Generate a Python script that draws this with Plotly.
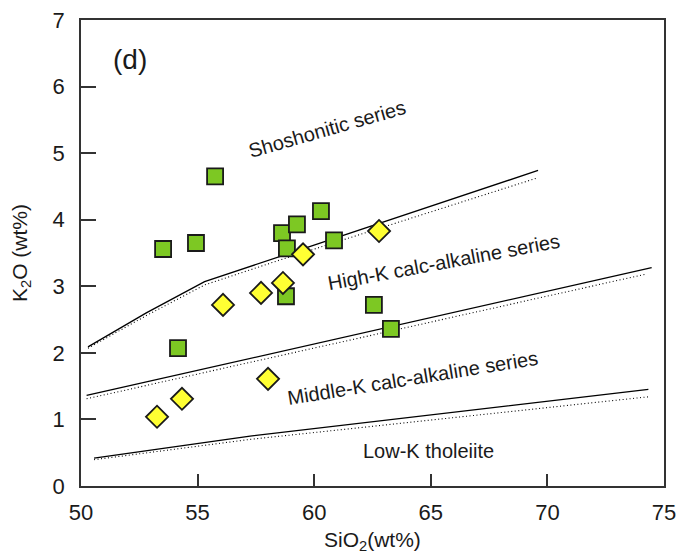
import plotly.graph_objects as go

# Boundary lines (solid and dotted versions)
shos_x = [50.3, 52.8, 55.3, 58.4, 69.6]
shos_y = [2.09, 2.60, 3.07, 3.43, 4.74]
shos_dot_x = [50.3, 52.8, 55.3, 58.4, 69.5]
shos_dot_y = [2.07, 2.56, 3.02, 3.38, 4.62]

highk_x = [50.24, 74.47]
highk_y = [1.36, 3.28]
highk_dot_x = [50.24, 74.19]
highk_dot_y = [1.31, 3.18]

lowk_x = [50.56, 57.25, 74.33]
lowk_y = [0.42, 0.75, 1.45]
lowk_dot_x = [50.56, 57.25, 74.33]
lowk_dot_y = [0.395, 0.70, 1.34]

# Samples
sq_sio2 = [55.75, 53.52, 54.93, 58.62, 59.26, 60.29, 58.83, 60.85, 58.79, 54.16, 62.56, 63.29]
sq_k2o = [4.65, 3.56, 3.65, 3.80, 3.93, 4.13, 3.57, 3.69, 2.85, 2.07, 2.72, 2.36]
dia_sio2 = [62.78, 59.52, 58.66, 57.72, 56.09, 58.02, 54.33, 53.26]
dia_k2o = [3.83, 3.48, 3.05, 2.90, 2.72, 1.61, 1.31, 1.04]

x_ticks = [50, 55, 60, 65, 70, 75]
y_ticks = [0, 1, 2, 3, 4, 5, 6, 7]

FONT = "Liberation Sans, Arial, sans-serif"

fig = go.Figure()
for xs, ys, dash in [(shos_dot_x, shos_dot_y, "dot"), (shos_x, shos_y, "solid"),
                     (highk_dot_x, highk_dot_y, "dot"), (highk_x, highk_y, "solid"),
                     (lowk_dot_x, lowk_dot_y, "dot"), (lowk_x, lowk_y, "solid")]:
    fig.add_trace(go.Scatter(x=xs, y=ys, mode="lines",
                             line=dict(color="black", width=1.3 if dash == "solid" else 1.1,
                                       dash="solid" if dash == "solid" else "1px,2.5px"),
                             showlegend=False, hoverinfo="skip"))

fig.add_trace(go.Scatter(x=sq_sio2, y=sq_k2o, mode="markers", showlegend=False,
                         marker=dict(symbol="square", size=16, color="#7dc823",
                                     line=dict(color="#1a1a1a", width=1.8))))
fig.add_trace(go.Scatter(x=dia_sio2, y=dia_k2o, mode="markers", showlegend=False,
                         marker=dict(symbol="diamond", size=17, color="#ffff33",
                                     line=dict(color="#1a1a1a", width=1.8))))

annos = [
    dict(text="(d)", x=52.1, y=6.4, textangle=0, size=28),
    dict(text="Shoshonitic series", x=60.55, y=5.36, textangle=-16, size=20),
    dict(text="High-K calc-alkaline series", x=65.56, y=3.36, textangle=-10.5, size=20),
    dict(text="Middle-K calc-alkaline series", x=64.2, y=1.62, textangle=-9.2, size=20),
    dict(text="Low-K tholeiite", x=64.88, y=0.52, textangle=0, size=20),
]
for a in annos:
    fig.add_annotation(x=a["x"], y=a["y"], text=a["text"], textangle=a["textangle"],
                       showarrow=False, xref="x", yref="y",
                       font=dict(family=FONT, size=a["size"], color="#1a1a1a"))

# Axis titles as paper-anchored annotations (pixel offsets from plot area)
fig.add_annotation(text="SiO<sub>2</sub>(wt%)", xref="paper", yref="paper", x=0.5, y=0,
                   yshift=-55, showarrow=False, yanchor="middle",
                   font=dict(family=FONT, size=21, color="#1a1a1a"))
fig.add_annotation(text="K<sub>2</sub>O (wt%)", xref="paper", yref="paper", x=0, y=0.5,
                   xshift=-60, showarrow=False, textangle=-90, xanchor="center",
                   font=dict(family=FONT, size=21, color="#1a1a1a"))

axis_common = dict(showgrid=False, zeroline=False, showline=True, linecolor="#333333",
                   linewidth=1.5, mirror=True, ticks="inside", tickcolor="#333333",
                   tickwidth=1.5, automargin=False,
                   tickfont=dict(family=FONT, size=22, color="#1a1a1a"))

fig.update_layout(
    width=685, height=555,
    margin=dict(l=81, r=21, t=20, b=69),
    plot_bgcolor="white", paper_bgcolor="white",
    xaxis=dict(range=[50, 75], tickvals=x_ticks, ticklen=12, ticklabelstandoff=6, **axis_common),
    yaxis=dict(range=[0, 7], tickvals=y_ticks, ticklen=15, ticklabelstandoff=10, **axis_common),
)

fig.write_html("out.html")
